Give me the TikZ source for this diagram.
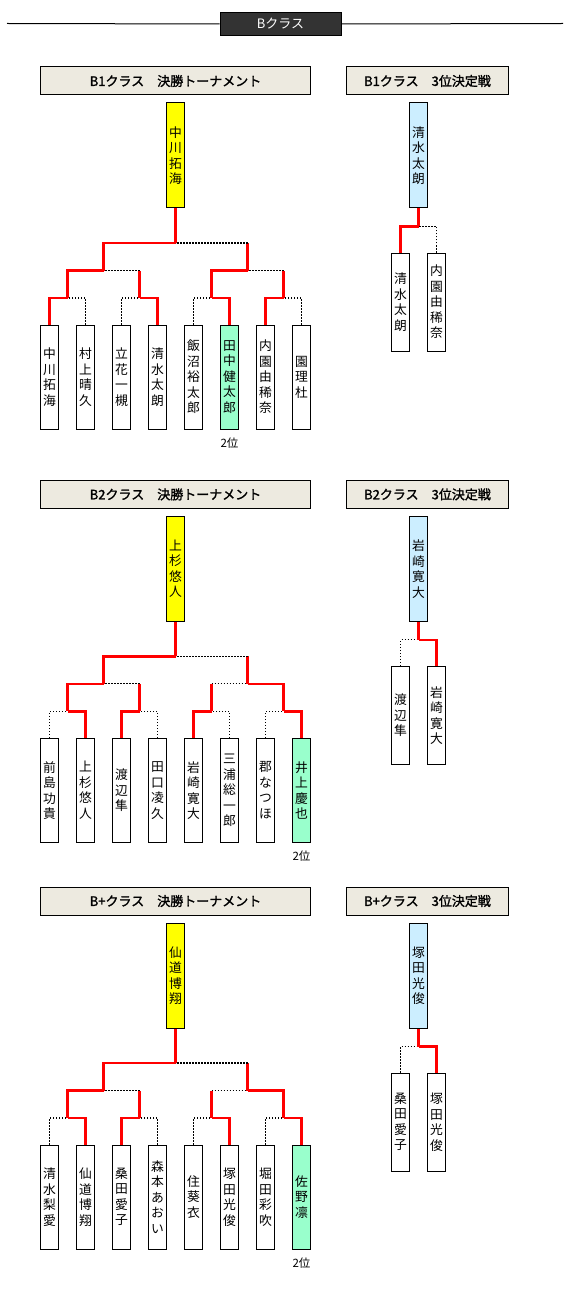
\documentclass[tikz,border=0pt]{standalone}
\usepackage{fontspec}
\setmainfont{Noto Sans CJK JP}
\newfontfamily\jpb{Noto Sans CJK JP}[FakeBold=1.6]
\definecolor{hdr}{HTML}{EDEAE0}
\definecolor{gold}{HTML}{FFFF00}
\definecolor{second}{HTML}{99FFCC}
\definecolor{third}{HTML}{CCEEFF}
\definecolor{dark}{HTML}{333333}
\tikzset{
  namebox/.style={draw=black, line width=1pt, fill=white, minimum width=18pt, minimum height=104pt, inner sep=0pt, align=center, font=\fontsize{12.8}{15.5}\selectfont},
  champ/.style={namebox, fill=gold, minimum height=105pt},
  thirdw/.style={namebox, fill=third, minimum height=105pt},
  secondbox/.style={namebox, fill=second},
  thirdleaf/.style={namebox, minimum height=98pt},
  win/.style={draw=red, line width=2.2pt},
  lose/.style={draw=black, line width=1.15pt, dash pattern=on 1.15pt off 1.85pt},
  hdrbox/.style={draw=black, line width=1pt, fill=hdr, inner sep=0pt, minimum height=28pt, font=\jpb\fontsize{13}{13}\selectfont},
  topbox/.style={draw=black, line width=1pt, fill=dark, text=white, inner sep=0pt, minimum width=121pt, minimum height=23pt, font=\fontsize{13}{13}\selectfont},
  rank/.style={inner sep=0pt, font=\fontsize{11.5}{11.5}\selectfont},
}
\begin{document}
\begin{tikzpicture}[x=1pt,y=-1pt]
\useasboundingbox (0,0) rectangle (570,1289);
% top header
\coordinate (hl) at (7,23.5);
\coordinate (hr) at (563,23.5);
\node[topbox] (top) at (280.5,24) {Bクラス};
\draw[line width=1pt] (hl) -- (top.west);
\draw[line width=1pt] (top.east) -- (hr);

% ================= B1 =================
\begin{scope}
\node[hdrbox, minimum width=270pt] (ah) at (175.5,81) {B1クラス　決勝トーナメント};
\node[hdrbox, minimum width=162pt] (axh) at (427.5,81) {B1クラス　3位決定戦};
\node[champ] (aw) at (175.5,155.5) {中\\川\\拓\\海};
\node[namebox] (a1) at (49.5,377) {中\\川\\拓\\海};
\node[namebox] (a2) at (85.5,377) {村\\上\\晴\\久};
\node[namebox] (a3) at (121.5,377) {立\\花\\一\\槻};
\node[namebox] (a4) at (157.5,377) {清\\水\\太\\朗};
\node[namebox] (a5) at (193.5,377) {飯\\沼\\裕\\太\\郎};
\node[secondbox] (a6) at (229.5,377) {田\\中\\健\\太\\郎};
\node[namebox] (a7) at (265.5,377) {内\\園\\由\\稀\\奈};
\node[namebox] (a8) at (301.5,377) {園\\理\\杜};
\node[rank] (ar) at (229.5,443) {2位};
\coordinate (aj1) at (67.5,298);
\coordinate (aj2) at (139.5,298);
\coordinate (aj3) at (211.5,298);
\coordinate (aj4) at (283.5,298);
\coordinate (ak1) at (103.5,270.5);
\coordinate (ak2) at (247.5,270.5);
\coordinate (am) at (175.5,243);
\draw[win] (a1.north) |- (aj1);
\draw[lose] (a2.north) |- (aj1);
\draw[lose] (a3.north) |- (aj2);
\draw[win] (a4.north) |- (aj2);
\draw[lose] (a5.north) |- (aj3);
\draw[win] (a6.north) |- (aj3);
\draw[win] (a7.north) |- (aj4);
\draw[lose] (a8.north) |- (aj4);
\draw[win] (aj1) |- (ak1);
\draw[win] (aj2) -- (aj2 |- ak1);
\draw[lose] (aj2 |- ak1) -- (ak1);
\draw[win] (aj3) |- (ak2);
\draw[win] (aj4) -- (aj4 |- ak2);
\draw[lose] (aj4 |- ak2) -- (ak2);
\draw[win] (ak1) |- (am);
\draw[win] (ak2) -- (ak2 |- am);
\draw[lose] (ak2 |- am) -- (am);
\draw[win] (am) -- (aw.south);
% third place
\node[thirdw] (ax) at (418.5,155.5) {清\\水\\太\\朗};
\node[thirdleaf] (ax1) at (400.5,302) {清\\水\\太\\朗};
\node[thirdleaf] (ax2) at (436.5,302) {内\\園\\由\\稀\\奈};
\coordinate (axj) at (418.5,226.5);
\draw[win] (ax1.north) |- (axj);
\draw[lose] (ax2.north) |- (axj);
\draw[win] (axj) -- (ax.south);
\end{scope}

% ================= B2 =================
\begin{scope}[shift={(0,413.4)}]
\node[hdrbox, minimum width=270pt] (bh) at (175.5,81) {B2クラス　決勝トーナメント};
\node[hdrbox, minimum width=162pt] (bxh) at (427.5,81) {B2クラス　3位決定戦};
\node[champ] (bw) at (175.5,155.5) {上\\杉\\悠\\人};
\node[namebox] (b1) at (49.5,377) {前\\島\\功\\貴};
\node[namebox] (b2) at (85.5,377) {上\\杉\\悠\\人};
\node[namebox] (b3) at (121.5,377) {渡\\辺\\隼};
\node[namebox] (b4) at (157.5,377) {田\\口\\凌\\久};
\node[namebox] (b5) at (193.5,377) {岩\\崎\\寛\\大};
\node[namebox] (b6) at (229.5,377) {三\\浦\\総\\一\\郎};
\node[namebox] (b7) at (265.5,377) {郡\\な\\つ\\ほ};
\node[secondbox] (b8) at (301.5,377) {井\\上\\慶\\也};
\node[rank] (br) at (301.5,443) {2位};
\coordinate (bj1) at (67.5,298);
\coordinate (bj2) at (139.5,298);
\coordinate (bj3) at (211.5,298);
\coordinate (bj4) at (283.5,298);
\coordinate (bk1) at (103.5,270.5);
\coordinate (bk2) at (247.5,270.5);
\coordinate (bm) at (175.5,243);
\draw[lose] (b1.north) |- (bj1);
\draw[win] (b2.north) |- (bj1);
\draw[win] (b3.north) |- (bj2);
\draw[lose] (b4.north) |- (bj2);
\draw[win] (b5.north) |- (bj3);
\draw[lose] (b6.north) |- (bj3);
\draw[lose] (b7.north) |- (bj4);
\draw[win] (b8.north) |- (bj4);
\draw[win] (bj1) |- (bk1);
\draw[win] (bj2) -- (bj2 |- bk1);
\draw[lose] (bj2 |- bk1) -- (bk1);
\draw[win] (bj4) |- (bk2);
\draw[win] (bj3) -- (bj3 |- bk2);
\draw[lose] (bj3 |- bk2) -- (bk2);
\draw[win] (bk1) |- (bm);
\draw[win] (bk2) -- (bk2 |- bm);
\draw[lose] (bk2 |- bm) -- (bm);
\draw[win] (bm) -- (bw.south);
% third place
\node[thirdw] (bx) at (418.5,155.5) {岩\\崎\\寛\\大};
\node[thirdleaf] (bx1) at (400.5,302) {渡\\辺\\隼};
\node[thirdleaf] (bx2) at (436.5,302) {岩\\崎\\寛\\大};
\coordinate (bxj) at (418.5,226.5);
\draw[lose] (bx1.north) |- (bxj);
\draw[win] (bx2.north) |- (bxj);
\draw[win] (bxj) -- (bx.south);
\end{scope}

% ================= B+ =================
\begin{scope}[shift={(0,820)}]
\node[hdrbox, minimum width=270pt] (ch) at (175.5,81) {B+クラス　決勝トーナメント};
\node[hdrbox, minimum width=162pt] (cxh) at (427.5,81) {B+クラス　3位決定戦};
\node[champ] (cw) at (175.5,155.5) {仙\\道\\博\\翔};
\node[namebox] (c1) at (49.5,377) {清\\水\\梨\\愛};
\node[namebox] (c2) at (85.5,377) {仙\\道\\博\\翔};
\node[namebox] (c3) at (121.5,377) {桑\\田\\愛\\子};
\node[namebox] (c4) at (157.5,377) {森\\本\\あ\\お\\い};
\node[namebox] (c5) at (193.5,377) {住\\葵\\衣};
\node[namebox] (c6) at (229.5,377) {塚\\田\\光\\俊};
\node[namebox] (c7) at (265.5,377) {堀\\田\\彩\\吹};
\node[secondbox] (c8) at (301.5,377) {佐\\野\\凛};
\node[rank] (cr) at (301.5,443) {2位};
\coordinate (cj1) at (67.5,298);
\coordinate (cj2) at (139.5,298);
\coordinate (cj3) at (211.5,298);
\coordinate (cj4) at (283.5,298);
\coordinate (ck1) at (103.5,270.5);
\coordinate (ck2) at (247.5,270.5);
\coordinate (cm) at (175.5,243);
\draw[lose] (c1.north) |- (cj1);
\draw[win] (c2.north) |- (cj1);
\draw[win] (c3.north) |- (cj2);
\draw[lose] (c4.north) |- (cj2);
\draw[lose] (c5.north) |- (cj3);
\draw[win] (c6.north) |- (cj3);
\draw[lose] (c7.north) |- (cj4);
\draw[win] (c8.north) |- (cj4);
\draw[win] (cj1) |- (ck1);
\draw[win] (cj2) -- (cj2 |- ck1);
\draw[lose] (cj2 |- ck1) -- (ck1);
\draw[win] (cj4) |- (ck2);
\draw[win] (cj3) -- (cj3 |- ck2);
\draw[lose] (cj3 |- ck2) -- (ck2);
\draw[win] (ck1) |- (cm);
\draw[win] (ck2) -- (ck2 |- cm);
\draw[lose] (ck2 |- cm) -- (cm);
\draw[win] (cm) -- (cw.south);
% third place
\node[thirdw] (cx) at (418.5,155.5) {塚\\田\\光\\俊};
\node[thirdleaf] (cx1) at (400.5,302) {桑\\田\\愛\\子};
\node[thirdleaf] (cx2) at (436.5,302) {塚\\田\\光\\俊};
\coordinate (cxj) at (418.5,226.5);
\draw[lose] (cx1.north) |- (cxj);
\draw[win] (cx2.north) |- (cxj);
\draw[win] (cxj) -- (cx.south);
\end{scope}
\end{tikzpicture}
\end{document}
